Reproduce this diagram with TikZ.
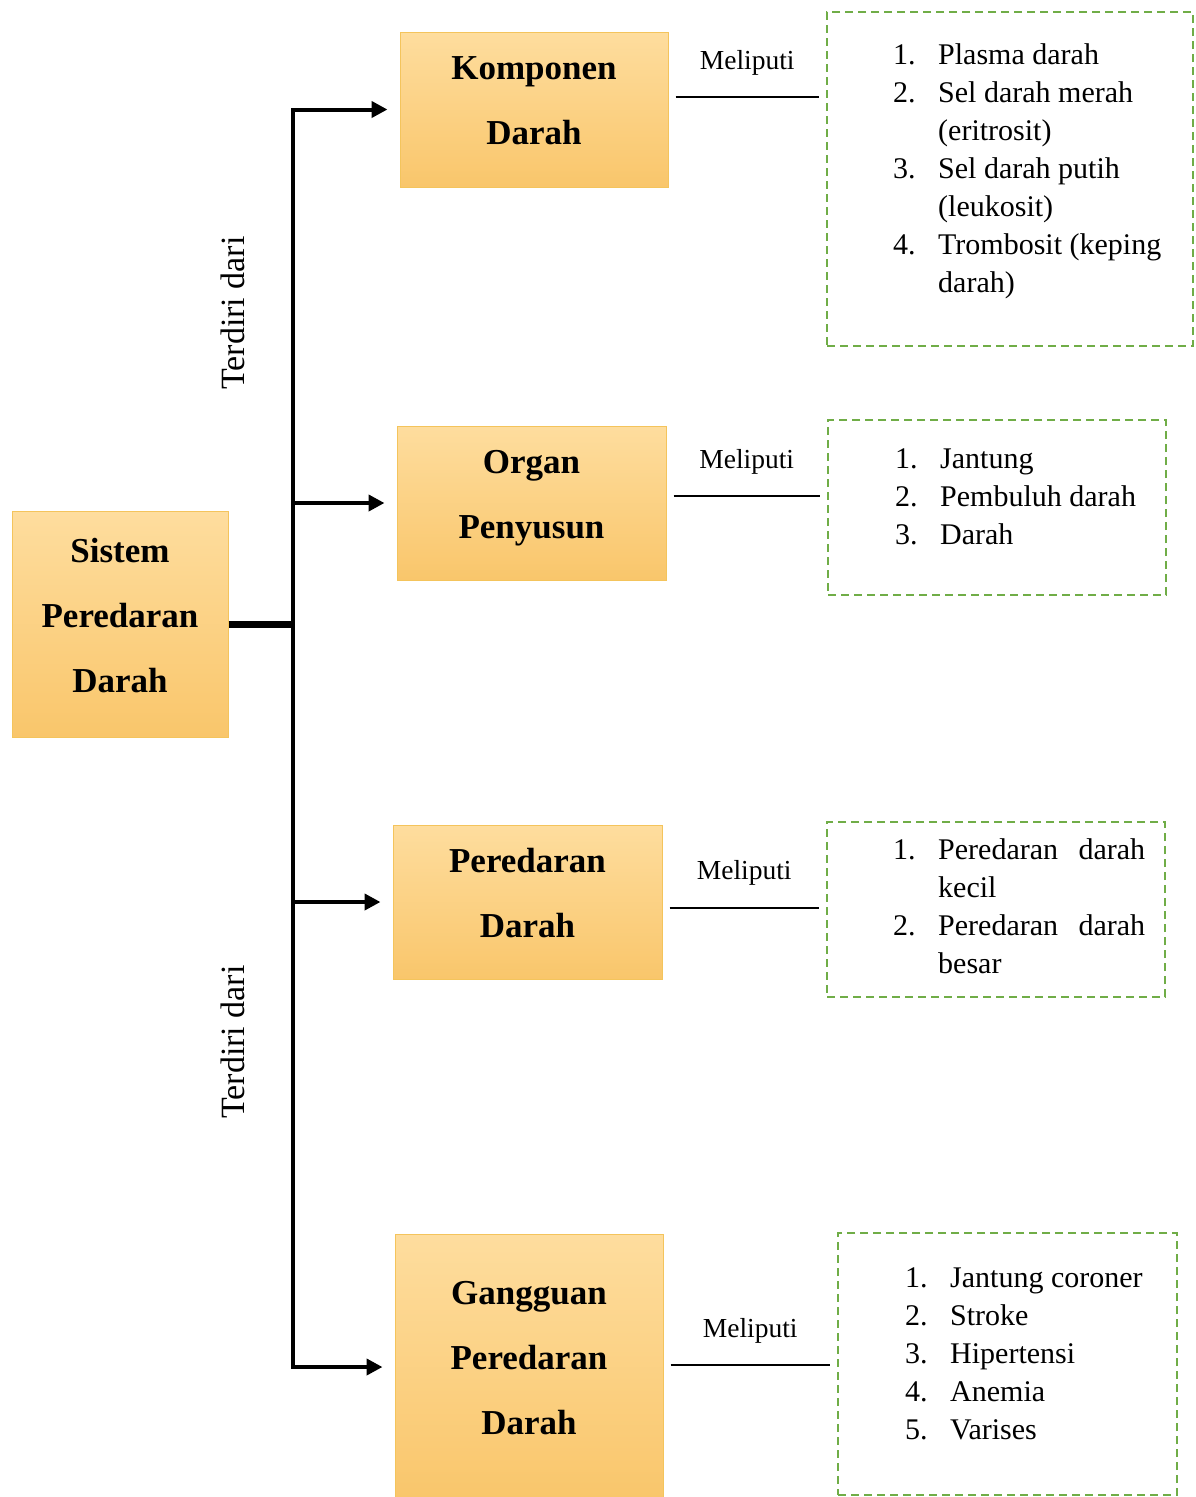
\documentclass[tikz,border=0pt]{standalone}
\usepackage{fontspec}
\setmainfont{Liberation Serif}
\usetikzlibrary{arrows.meta}

\definecolor{boxtop}{HTML}{FEDD9E}
\definecolor{boxbot}{HTML}{F9C66B}
\definecolor{boxline}{HTML}{F4C45C}
\definecolor{dashgreen}{HTML}{70AD47}

\tikzset{
  topic/.style={draw=boxline, line width=1pt, top color=boxtop, bottom color=boxbot,
    align=center, font=\fontsize{35}{65}\selectfont\bfseries, text depth=18pt, inner sep=0pt},
  listbox/.style={draw=dashgreen, line width=2pt, dash pattern=on 8pt off 5pt, inner sep=0pt},
  items/.style={anchor=base west, inner sep=0pt, font=\fontsize{30}{38}\selectfont},
  branch/.style={line width=4pt, -{Triangle[length=16pt,width=16pt]}, shorten >=12pt},
  link/.style={line width=2pt, shorten <=7pt, shorten >=7pt},
  meliputi/.style={above=21pt, inner sep=0pt, font=\fontsize{27.5}{30}\selectfont},
  terdiri/.style={rotate=90, inner sep=0pt, font=\fontsize{34}{40}\selectfont},
}

\begin{document}
\begin{tikzpicture}[x=1pt, y=-1pt]
			%%%%% FRAME %%%%%
			\useasboundingbox (0,0) rectangle (1195,1497);
			\clip (0,0) rectangle (1195,1497);
			\fill[white] (0,0) rectangle (1195,1497);
			
			%%%%% TOPICS %%%%%
			\node[topic, minimum width=216, minimum height=226] (sistem) at (120,624) {Sistem\\Peredaran\\Darah};
			\node[topic, minimum width=268, minimum height=155] (komponen) at (534,109.5) {Komponen\\Darah};
			\node[topic, minimum width=269, minimum height=154] (organ) at (531.5,503) {Organ\\Penyusun};
			\node[topic, minimum width=269, minimum height=154] (peredaran) at (527.5,902) {Peredaran\\Darah};
			\node[topic, minimum width=268, minimum height=266] (gangguan) at (529,1367) {Gangguan\\Peredaran\\Darah};
			
			%%%%% LISTS %%%%%
			\node[listbox, minimum width=366, minimum height=334] (list1) at (1010,179) {};
			\node[listbox, minimum width=338, minimum height=175] (list2) at (997,507.5) {};
			\node[listbox, minimum width=338, minimum height=175] (list3) at (996,909.5) {};
			\node[listbox, minimum width=339, minimum height=262] (list4) at (1007.5,1364) {};
			
			\node[items] (items1) at (893,64) {\begin{tabular}[t]{@{}l@{\hspace{22.5pt}}l@{}}
				1. & Plasma darah\\
				2. & Sel darah merah\\
				   & (eritrosit)\\
				3. & Sel darah putih\\
				   & (leukosit)\\
				4. & Trombosit (keping\\
				   & darah)
			\end{tabular}};
			\node[items] (items2) at (895,468) {\begin{tabular}[t]{@{}l@{\hspace{22.5pt}}l@{}}
				1. & Jantung\\
				2. & Pembuluh darah\\
				3. & Darah
			\end{tabular}};
			\node[items] (items3) at (893,859) {\begin{tabular}[t]{@{}l@{\hspace{22.5pt}}l@{}}
				1. & \makebox[207pt][s]{Peredaran darah}\\
				   & kecil\\
				2. & \makebox[207pt][s]{Peredaran darah}\\
				   & besar
			\end{tabular}};
			\node[items] (items4) at (905,1287) {\begin{tabular}[t]{@{}l@{\hspace{22.5pt}}l@{}}
				1. & Jantung coroner\\
				2. & Stroke\\
				3. & Hipertensi\\
				4. & Anemia\\
				5. & Varises
			\end{tabular}};
			
			%%%%% CONNECTORS %%%%%
			\coordinate (trunk) at (293,624);
			\draw[line width=7pt] (sistem.east) -- (trunk);
			\foreach \n in {komponen,organ,peredaran,gangguan}
				\draw[branch] (trunk) |- (\n.west);
			
			\node[terdiri] (terdiri1) at (233,313) {Terdiri dari};
			\node[terdiri] (terdiri2) at (233,1042) {Terdiri dari};
			
			\foreach \a/\b/\y in {komponen/list1/97, organ/list2/496, peredaran/list3/907.5, gangguan/list4/1365} {
				\coordinate (ly) at (0,\y);
				\draw[link] (\a.east |- ly) -- node[meliputi] {Meliputi} (\b.west |- ly);
			}
			
\end{tikzpicture}
\end{document}
